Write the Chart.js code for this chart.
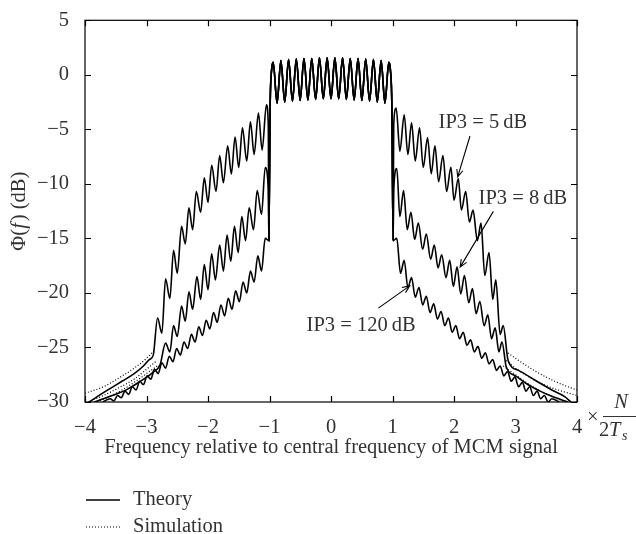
<!DOCTYPE html>
<html>
<head>
<meta charset="utf-8">
<script src="https://cdn.jsdelivr.net/npm/chart.js@4.4.1/dist/chart.umd.min.js"></script>
<style>
  body { margin: 0; background: #fff; }
  canvas { display: block; }
</style>
</head>
<body>
<canvas id="psd" width="636" height="534"></canvas>
<script>
// x: frequency relative to centre (units of N/2Ts), y: PSD in dB
const xTicks = [-4, -3, -2, -1, 0, 1, 2, 3, 4];
const yTicks = [-30, -25, -20, -15, -10, -5, 0, 5];

// in-band part, common to all three curves
const band = [[-1.01,-15.2],[-0.99,-3.0],[-0.965,0.5],[-0.94,1.15],[-0.877,-2.6],[-0.815,1.3],[-0.752,-2.5],[-0.69,1.4],[-0.627,-2.4],[-0.564,1.45],[-0.502,-2.35],[-0.44,1.5],[-0.376,-2.3],[-0.313,1.5],[-0.25,-2.25],[-0.188,1.55],[-0.125,-2.2],[-0.063,1.55],[0,-2.2],[0.063,1.55],[0.125,-2.2],[0.188,1.55],[0.25,-2.25],[0.313,1.5],[0.376,-2.3],[0.44,1.5],[0.502,-2.35],[0.564,1.45],[0.627,-2.4],[0.69,1.4],[0.752,-2.5],[0.815,1.3],[0.877,-2.6],[0.94,1.15],[0.965,0.5],[0.99,-3.0],[1.01,-15.2]];

// IP3 = 5 dB, theory
const ip5Left = [[-3.93,-30],[-3.8,-29.5],[-3.6,-28.8],[-3.4,-28.1],[-3.2,-27.4],[-3.05,-26.7],[-2.95,-26.1],[-2.89,-25.7],[-2.82,-22.3],[-2.75,-23.7],[-2.69,-18.7],[-2.62,-20.5],[-2.56,-16.1],[-2.5,-18.2],[-2.43,-13.9],[-2.37,-15.5],[-2.31,-12.2],[-2.25,-14.2],[-2.19,-10.7],[-2.12,-12.6],[-2.06,-9.45],[-2.0,-11.7],[-1.94,-8.3],[-1.87,-10.7],[-1.81,-7.4],[-1.75,-9.9],[-1.68,-6.5],[-1.62,-9.1],[-1.56,-5.7],[-1.5,-8.5],[-1.44,-4.85],[-1.37,-7.9],[-1.31,-4.3],[-1.25,-7.3],[-1.18,-3.5],[-1.12,-6.9],[-1.05,-2.75],[-1.02,-4.5]];
const ip5Right = [[1.02,-4.5],[1.06,-3.05],[1.12,-7.0],[1.19,-3.66],[1.25,-7.3],[1.31,-4.4],[1.37,-7.9],[1.44,-4.86],[1.5,-8.5],[1.57,-5.76],[1.63,-9.07],[1.69,-6.5],[1.75,-9.8],[1.82,-7.4],[1.88,-10.7],[1.95,-8.47],[2.0,-11.5],[2.07,-9.5],[2.12,-12.4],[2.19,-10.7],[2.25,-13.5],[2.31,-12.4],[2.38,-15.2],[2.44,-13.6],[2.5,-18.4],[2.57,-16.3],[2.63,-20.6],[2.68,-18.8],[2.75,-23.8],[2.8,-23.0],[2.88,-26.2],[3.05,-27.1],[3.32,-28.0],[3.59,-28.9],[3.8,-29.5],[3.9,-30]];

// IP3 = 8 dB, theory
const ip8Left = [[-3.85,-30],[-3.75,-29.8],[-3.5,-29.3],[-3.3,-28.8],[-3.1,-28.1],[-2.9,-27.3],[-2.78,-26.6],[-2.69,-24.6],[-2.62,-25.4],[-2.56,-23.0],[-2.5,-24.0],[-2.43,-21.2],[-2.37,-22.6],[-2.31,-19.9],[-2.25,-21.5],[-2.18,-18.5],[-2.12,-20.6],[-2.06,-17.4],[-2.0,-19.7],[-1.94,-16.4],[-1.88,-18.8],[-1.81,-15.6],[-1.75,-18.0],[-1.69,-14.7],[-1.63,-17.1],[-1.57,-13.9],[-1.51,-16.3],[-1.45,-13.0],[-1.39,-15.2],[-1.33,-12.2],[-1.26,-14.2],[-1.2,-10.6],[-1.13,-12.8],[-1.07,-8.5],[-1.02,-10.5]];
const ip8Right = [[1.02,-10.5],[1.07,-8.6],[1.12,-13.0],[1.18,-10.6],[1.24,-14.2],[1.3,-12.6],[1.36,-15.1],[1.42,-13.6],[1.49,-16.0],[1.55,-14.6],[1.62,-16.9],[1.68,-15.6],[1.74,-17.7],[1.8,-16.5],[1.87,-18.6],[1.93,-17.0],[1.99,-19.4],[2.05,-17.6],[2.11,-20.1],[2.17,-18.4],[2.24,-20.9],[2.3,-19.6],[2.36,-21.9],[2.42,-20.8],[2.49,-23.0],[2.55,-22.0],[2.61,-24.2],[2.67,-23.2],[2.73,-25.4],[2.78,-24.5],[2.85,-26.8],[3.0,-27.6],[3.2,-28.4],[3.4,-29.0],[3.6,-29.5],[3.85,-30]];

// IP3 = 120 dB, theory
const ip120Left = [[-3.71,-30],[-3.59,-29.7],[-3.53,-29.9],[-3.47,-29.4],[-3.41,-29.6],[-3.35,-29.0],[-3.29,-29.3],[-3.23,-28.6],[-3.17,-28.9],[-3.11,-28.1],[-3.05,-28.4],[-2.99,-27.6],[-2.93,-27.9],[-2.87,-27.0],[-2.81,-27.4],[-2.75,-26.4],[-2.69,-26.9],[-2.63,-25.8],[-2.57,-26.3],[-2.51,-25.1],[-2.45,-25.7],[-2.39,-24.5],[-2.33,-25.1],[-2.27,-23.8],[-2.21,-24.5],[-2.15,-23.1],[-2.09,-23.9],[-2.03,-22.5],[-1.97,-23.3],[-1.91,-21.8],[-1.85,-22.7],[-1.79,-21.1],[-1.73,-22.1],[-1.67,-20.5],[-1.61,-21.5],[-1.55,-19.8],[-1.49,-20.8],[-1.43,-19.0],[-1.37,-20.0],[-1.31,-18.0],[-1.25,-19.0],[-1.19,-16.6],[-1.13,-18.0],[-1.07,-15.0]];
const ip120Right = [[1.07,-15.0],[1.13,-18.2],[1.19,-17.0],[1.25,-19.5],[1.31,-18.6],[1.37,-20.4],[1.43,-19.5],[1.49,-21.1],[1.55,-20.3],[1.61,-21.8],[1.67,-21.0],[1.73,-22.4],[1.79,-21.7],[1.85,-23.0],[1.91,-22.3],[1.97,-23.6],[2.03,-23.0],[2.09,-24.2],[2.15,-23.6],[2.21,-24.8],[2.27,-24.3],[2.33,-25.4],[2.39,-24.9],[2.45,-26.0],[2.51,-25.5],[2.57,-26.5],[2.63,-26.1],[2.69,-27.1],[2.75,-26.7],[2.81,-27.6],[2.87,-27.2],[2.93,-28.1],[2.99,-27.7],[3.05,-28.6],[3.11,-28.2],[3.17,-29.0],[3.23,-28.6],[3.29,-29.4],[3.35,-29.0],[3.41,-29.7],[3.47,-29.4],[3.53,-30],[3.59,-29.7],[3.71,-30]];

// simulation, where it leaves the theory curves (out-of-band tails)
const sim5Left = [[-4,-29.2],[-3.7,-28.6],[-3.45,-27.8],[-3.2,-26.9],[-3.0,-26.0],[-2.88,-25.3]];
const sim5Right = [[2.88,-25.5],[3.0,-26.0],[3.3,-27.1],[3.6,-28.0],[3.85,-28.6],[4,-28.9]];
const sim8Left = [[-3.95,-30],[-3.7,-29.4],[-3.45,-28.7],[-3.2,-27.9],[-3.0,-27.0],[-2.85,-26.3]];
const sim8Right = [[2.85,-26.2],[3.0,-26.9],[3.25,-27.8],[3.5,-28.5],[3.75,-29.0],[4,-29.4]];
const sim120Left = [[-3.8,-30],[-3.6,-29.5],[-3.4,-28.9],[-3.2,-28.2],[-3.0,-27.4],[-2.8,-26.6]];
const sim120Right = [[2.8,-26.7],[3.0,-27.5],[3.2,-28.3],[3.4,-29.0],[3.6,-29.5],[3.8,-30]];

const notes = [
  { text: 'IP3 = 5\u2009dB', at: [2.47, -4.38], from: [2.26, -5.61], to: [2.06, -9.36] },
  { text: 'IP3 = 8\u2009dB', at: [3.12, -11.32], from: [2.64, -12.52], to: [2.10, -17.63] },
  { text: 'IP3 = 120\u2009dB', at: [0.49, -22.95], from: [0.77, -21.39], to: [1.28, -19.35] }
];

const serif = '"Liberation Serif", "Times New Roman", serif';
const ink = '#333';
const fs = 20.5;

function theory(data) {
  return { data: data, borderColor: '#000', borderWidth: 1.6, pointRadius: 0, cubicInterpolationMode: 'monotone' };
}
function simulation(data) {
  return { data: data, borderColor: '#000', borderWidth: 1.2, borderDash: [1, 2], pointRadius: 0, cubicInterpolationMode: 'monotone' };
}

const minus = v => String(v).replace('-', '\u2212');

// frame, inner ticks, titles, annotations and legend
const decorations = {
  id: 'decorations',
  afterDraw(chart) {
    const c = chart.ctx, a = chart.chartArea;
    const xs = chart.scales.x, ys = chart.scales.y;
    c.save();
    c.strokeStyle = '#000';
    c.lineWidth = 1.2;
    c.strokeRect(a.left, a.top, a.right - a.left, a.bottom - a.top);
    c.beginPath();
    xTicks.forEach(v => {
      const px = Math.round(xs.getPixelForValue(v)) + 0.5;
      c.moveTo(px, a.bottom); c.lineTo(px, a.bottom - 6);
      c.moveTo(px, a.top); c.lineTo(px, a.top + 6);
    });
    yTicks.forEach(v => {
      const py = Math.round(ys.getPixelForValue(v)) + 0.5;
      c.moveTo(a.left, py); c.lineTo(a.left + 6, py);
      c.moveTo(a.right, py); c.lineTo(a.right - 6, py);
    });
    c.stroke();

    c.fillStyle = ink;
    c.textBaseline = 'middle';

    // unit after the last x tick
    const x4 = xs.getPixelForValue(4);
    c.font = fs + 'px ' + serif;
    c.textAlign = 'left';
    c.fillText('\u00d7', x4 + 10, a.bottom + 16);
    c.font = 'italic ' + fs + 'px ' + serif;
    c.textAlign = 'center';
    c.fillText('N', x4 + 44, a.bottom + 1);
    c.beginPath();
    c.lineWidth = 1;
    c.strokeStyle = ink;
    c.moveTo(x4 + 26, a.bottom + 14.5); c.lineTo(x4 + 60, a.bottom + 14.5);
    c.stroke();
    c.textAlign = 'left';
    c.font = fs + 'px ' + serif;
    c.fillText('2', x4 + 22, a.bottom + 29);
    c.font = 'italic ' + fs + 'px ' + serif;
    c.fillText('T', x4 + 32, a.bottom + 29);
    c.font = 'italic 14px ' + serif;
    c.fillText('s', x4 + 45, a.bottom + 34);

    // x title
    c.font = fs + 'px ' + serif;
    c.textAlign = 'center';
    c.fillText('Frequency relative to central frequency of MCM signal', xs.getPixelForValue(0), a.bottom + 46);

    // y title, mixed italic
    c.save();
    c.translate(20, (a.top + a.bottom) / 2);
    c.rotate(-Math.PI / 2);
    const parts = [['\u03a6(', ''], ['f', 'italic '], [') (dB)', '']];
    let total = 0;
    parts.forEach(p => { c.font = p[1] + fs + 'px ' + serif; total += c.measureText(p[0]).width + (p[0] === 'f' ? 2 : 0); });
    let cx = -total / 2;
    c.textAlign = 'left';
    parts.forEach(p => {
      c.font = p[1] + fs + 'px ' + serif;
      c.fillText(p[0], cx, 0);
      cx += c.measureText(p[0]).width + (p[0] === 'f' ? 2 : 0);
    });
    c.restore();

    // annotations with open arrow heads
    c.font = fs + 'px ' + serif;
    c.textAlign = 'center';
    c.strokeStyle = '#000';
    c.lineWidth = 1.1;
    notes.forEach(n => {
      c.fillText(n.text, xs.getPixelForValue(n.at[0]), ys.getPixelForValue(n.at[1]));
      const x1 = xs.getPixelForValue(n.from[0]), y1 = ys.getPixelForValue(n.from[1]);
      const x2 = xs.getPixelForValue(n.to[0]), y2 = ys.getPixelForValue(n.to[1]);
      const ang = Math.atan2(y2 - y1, x2 - x1);
      c.beginPath();
      c.moveTo(x1, y1); c.lineTo(x2, y2);
      c.moveTo(x2 - 8 * Math.cos(ang - 0.4), y2 - 8 * Math.sin(ang - 0.4));
      c.lineTo(x2, y2);
      c.lineTo(x2 - 8 * Math.cos(ang + 0.4), y2 - 8 * Math.sin(ang + 0.4));
      c.stroke();
    });

    // legend
    const lx = a.left + 1, ly = a.bottom + 98;
    c.beginPath();
    c.lineWidth = 1.6;
    c.moveTo(lx, ly); c.lineTo(lx + 34, ly);
    c.stroke();
    c.beginPath();
    c.lineWidth = 1.2;
    c.setLineDash([1, 2]);
    c.moveTo(lx, ly + 27); c.lineTo(lx + 34, ly + 27);
    c.stroke();
    c.setLineDash([]);
    c.textAlign = 'left';
    c.fillText('Theory', lx + 47, ly);
    c.fillText('Simulation', lx + 47, ly + 27);
    c.restore();
  }
};

new Chart(document.getElementById('psd'), {
  type: 'line',
  data: {
    datasets: [
      simulation(sim5Left), simulation(sim5Right),
      simulation(sim8Left), simulation(sim8Right),
      simulation(sim120Left), simulation(sim120Right),
      theory([...ip5Left, ...band, ...ip5Right]),
      theory([...ip8Left, ...band, ...ip8Right]),
      theory([...ip120Left, ...band, ...ip120Right])
    ]
  },
  options: {
    responsive: false,
    animation: false,
    layout: { padding: { top: 14, right: 59, left: 0, bottom: 0 } },
    plugins: { legend: { display: false }, tooltip: { enabled: false } },
    scales: {
      x: {
        type: 'linear', min: -4, max: 4,
        afterBuildTicks: s => { s.ticks = xTicks.map(v => ({ value: v })); },
        ticks: { callback: minus, font: { family: serif, size: fs }, color: ink, padding: 5, maxRotation: 0 },
        grid: { display: false }, border: { display: false },
        afterFit: s => { s.height = 132; }
      },
      y: {
        type: 'linear', min: -30, max: 5,
        afterBuildTicks: s => { s.ticks = yTicks.map(v => ({ value: v })); },
        ticks: { callback: minus, font: { family: serif, size: fs }, color: ink, padding: 8 },
        grid: { display: false }, border: { display: false },
        afterFit: s => { s.width = 85; }
      }
    }
  },
  plugins: [decorations]
});
</script>
</body>
</html>
